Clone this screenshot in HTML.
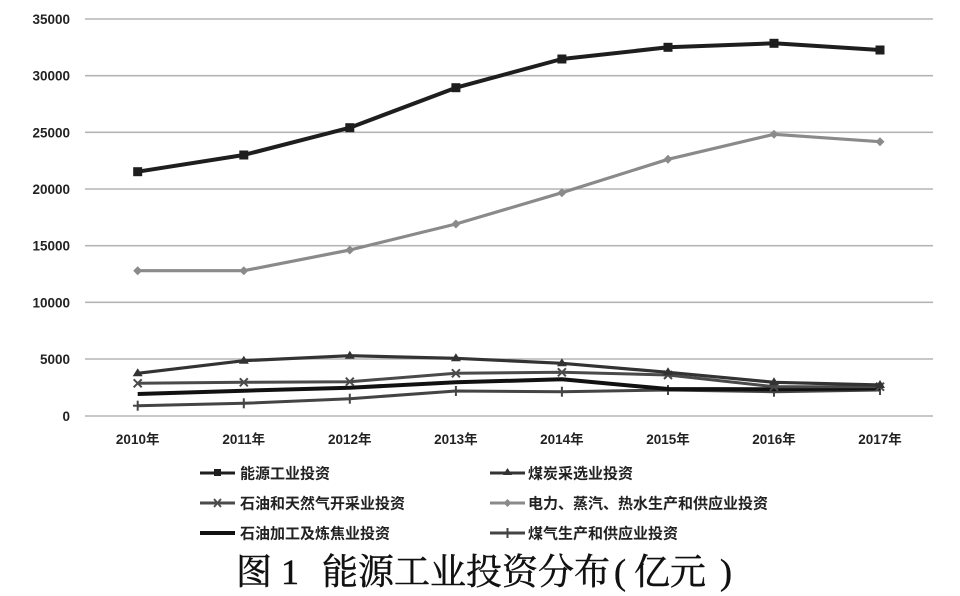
<!DOCTYPE html>
<html><head><meta charset="utf-8"><style>
html,body{margin:0;padding:0;background:#fff;}
body{width:960px;height:596px;position:relative;overflow:hidden;}
svg{position:absolute;left:0;top:0;}
.yl{font-family:"Liberation Sans","Noto Sans CJK SC",sans-serif;font-weight:bold;font-size:13.5px;fill:#222;}
.lg{font-family:"Liberation Sans","Noto Sans CJK SC",sans-serif;font-weight:bold;font-size:15px;fill:#222;}
.t{position:absolute;top:550px;font-family:"Liberation Serif","Noto Serif CJK SC",serif;font-size:36px;font-weight:normal;color:#111;line-height:44px;white-space:nowrap;-webkit-text-stroke:0.5px #111;}
</style></head><body>
<svg width="960" height="596" viewBox="0 0 960 596">
<g stroke="#b5b5b5" stroke-width="1.6">
<line x1="85" y1="19" x2="933" y2="19"/>
<line x1="85" y1="75.7" x2="933" y2="75.7"/>
<line x1="85" y1="132.3" x2="933" y2="132.3"/>
<line x1="85" y1="189" x2="933" y2="189"/>
<line x1="85" y1="245.7" x2="933" y2="245.7"/>
<line x1="85" y1="302.3" x2="933" y2="302.3"/>
<line x1="85" y1="359" x2="933" y2="359"/>
<line x1="85" y1="416" x2="933" y2="416"/>
</g>
<g class="yl" text-anchor="end">
<text x="70" y="24">35000</text>
<text x="70" y="80.7">30000</text>
<text x="70" y="137.3">25000</text>
<text x="70" y="194">20000</text>
<text x="70" y="250.7">15000</text>
<text x="70" y="307.3">10000</text>
<text x="70" y="364">5000</text>
<text x="70" y="421">0</text>
</g>
<g class="yl" text-anchor="middle">
<text x="137.7" y="444">2010年</text>
<text x="243.8" y="444">2011年</text>
<text x="349.8" y="444">2012年</text>
<text x="455.9" y="444">2013年</text>
<text x="561.9" y="444">2014年</text>
<text x="668" y="444">2015年</text>
<text x="774" y="444">2016年</text>
<text x="880" y="444">2017年</text>
</g>

<!-- 煤气 + -->
<polyline fill="none" stroke="#444" stroke-width="3" stroke-linejoin="round" points="137.7,405.7 243.8,403.3 349.8,398.7 455.9,391 561.9,391.7 668,390 774,391.7 880,390"/>
<g stroke="#444" stroke-width="2">
<line x1="137.7" y1="400.7" x2="137.7" y2="410.7"/><line x1="133" y1="405.7" x2="142.4" y2="405.7"/>
<line x1="243.8" y1="398.3" x2="243.8" y2="408.3"/>
<line x1="349.8" y1="393.7" x2="349.8" y2="403.7"/>
<line x1="455.9" y1="386" x2="455.9" y2="396"/>
<line x1="561.9" y1="386.7" x2="561.9" y2="396.7"/>
<line x1="668" y1="385" x2="668" y2="395"/>
<line x1="774" y1="386.7" x2="774" y2="396.7"/>
<line x1="880" y1="385" x2="880" y2="395"/>
</g>
<!-- 石油加工 -->
<polyline fill="none" stroke="#111" stroke-width="4" stroke-linejoin="round" points="137.7,394 243.8,390.7 349.8,387.7 455.9,382.3 561.9,379.3 668,389 774,389.3 880,388.3"/>
<!-- 石油天然气 × -->
<polyline fill="none" stroke="#4a4a4a" stroke-width="3" stroke-linejoin="round" points="137.7,383.3 243.8,382.3 349.8,381.7 455.9,373.3 561.9,372.3 668,375 774,386.7 880,386.7"/>
<g stroke="#4a4a4a" stroke-width="2">
<path d="M133.7 379.3l8 8M141.7 379.3l-8 8"/>
<path d="M239.8 378.3l8 8M247.8 378.3l-8 8"/>
<path d="M345.8 377.7l8 8M353.8 377.7l-8 8"/>
<path d="M451.9 369.3l8 8M459.9 369.3l-8 8"/>
<path d="M557.9 368.3l8 8M565.9 368.3l-8 8"/>
<path d="M664 371l8 8M672 371l-8 8"/>
<path d="M770 382.7l8 8M778 382.7l-8 8"/>
<path d="M876 382.7l8 8M884 382.7l-8 8"/>
</g>
<!-- 煤炭 ▲ -->
<polyline fill="none" stroke="#333" stroke-width="3.2" stroke-linejoin="round" points="137.7,373.3 243.8,360.7 349.8,355.7 455.9,358.3 561.9,363.3 668,372.3 774,382.3 880,385"/>
<g fill="#333">
<path d="M137.7 368.3l5 8h-10z"/>
<path d="M243.8 355.7l5 8h-10z"/>
<path d="M349.8 350.7l5 8h-10z"/>
<path d="M455.9 353.3l5 8h-10z"/>
<path d="M561.9 358.3l5 8h-10z"/>
<path d="M668 367.3l5 8h-10z"/>
<path d="M774 377.3l5 8h-10z"/>
<path d="M880 380l5 8h-10z"/>
</g>
<!-- 电力 ◆ -->
<polyline fill="none" stroke="#8a8a8a" stroke-width="3.2" stroke-linejoin="round" points="137.7,270.7 243.8,270.7 349.8,250 455.9,224 561.9,192.7 668,159.3 774,134.3 880,141.7"/>
<g fill="#8a8a8a">
<path d="M137.7 266.2l4.5 4.5-4.5 4.5-4.5-4.5z"/>
<path d="M243.8 266.2l4.5 4.5-4.5 4.5-4.5-4.5z"/>
<path d="M349.8 245.5l4.5 4.5-4.5 4.5-4.5-4.5z"/>
<path d="M455.9 219.5l4.5 4.5-4.5 4.5-4.5-4.5z"/>
<path d="M561.9 188.2l4.5 4.5-4.5 4.5-4.5-4.5z"/>
<path d="M668 154.8l4.5 4.5-4.5 4.5-4.5-4.5z"/>
<path d="M774 129.8l4.5 4.5-4.5 4.5-4.5-4.5z"/>
<path d="M880 137.2l4.5 4.5-4.5 4.5-4.5-4.5z"/>
</g>
<!-- 能源 ■ -->
<polyline fill="none" stroke="#1e1e1e" stroke-width="4" stroke-linejoin="round" points="137.7,171.7 243.8,155 349.8,127.7 455.9,87.7 561.9,59 668,47.3 774,43.3 880,50"/>
<g fill="#1e1e1e">
<rect x="133.2" y="167.2" width="9" height="9"/>
<rect x="239.3" y="150.5" width="9" height="9"/>
<rect x="345.3" y="123.2" width="9" height="9"/>
<rect x="451.4" y="83.2" width="9" height="9"/>
<rect x="557.4" y="54.5" width="9" height="9"/>
<rect x="663.5" y="42.8" width="9" height="9"/>
<rect x="769.5" y="38.8" width="9" height="9"/>
<rect x="875.5" y="45.5" width="9" height="9"/>
</g>

<!-- legend -->
<g>
<line x1="200" y1="473" x2="235" y2="473" stroke="#1e1e1e" stroke-width="3"/>
<rect x="214" y="469" width="7" height="7" fill="#1e1e1e"/>
<text class="lg" x="240" y="478.5">能源工业投资</text>

<line x1="200" y1="503" x2="235" y2="503" stroke="#4a4a4a" stroke-width="3"/>
<path d="M214 499l7 8M221 499l-7 8" stroke="#4a4a4a" stroke-width="1.8"/>
<text class="lg" x="240" y="508.5">石油和天然气开采业投资</text>

<line x1="200" y1="533" x2="235" y2="533" stroke="#111" stroke-width="4"/>
<text class="lg" x="240" y="538.5">石油加工及炼焦业投资</text>

<line x1="490" y1="473" x2="525" y2="473" stroke="#333" stroke-width="3"/>
<path d="M507.5 468l4.5 7h-9z" fill="#333"/>
<text class="lg" x="528" y="478.5">煤炭采选业投资</text>

<line x1="490" y1="503" x2="525" y2="503" stroke="#8a8a8a" stroke-width="3"/>
<path d="M507.5 499l4 4-4 4-4-4z" fill="#8a8a8a"/>
<text class="lg" x="528" y="508.5">电力、蒸汽、热水生产和供应业投资</text>

<line x1="490" y1="533" x2="525" y2="533" stroke="#444" stroke-width="3"/>
<line x1="507.5" y1="528" x2="507.5" y2="538" stroke="#444" stroke-width="2"/>
<text class="lg" x="528" y="538.5">煤气生产和供应业投资</text>
</g>
</svg>
<div class="t" style="left:236px;">图</div>
<div class="t" style="left:281px;">1</div>
<div class="t" style="left:322px;">能源工业投资分布</div>
<div class="t" style="left:614px;">(</div>
<div class="t" style="left:634px;">亿元</div>
<div class="t" style="left:720px;">)</div>
</body></html>
